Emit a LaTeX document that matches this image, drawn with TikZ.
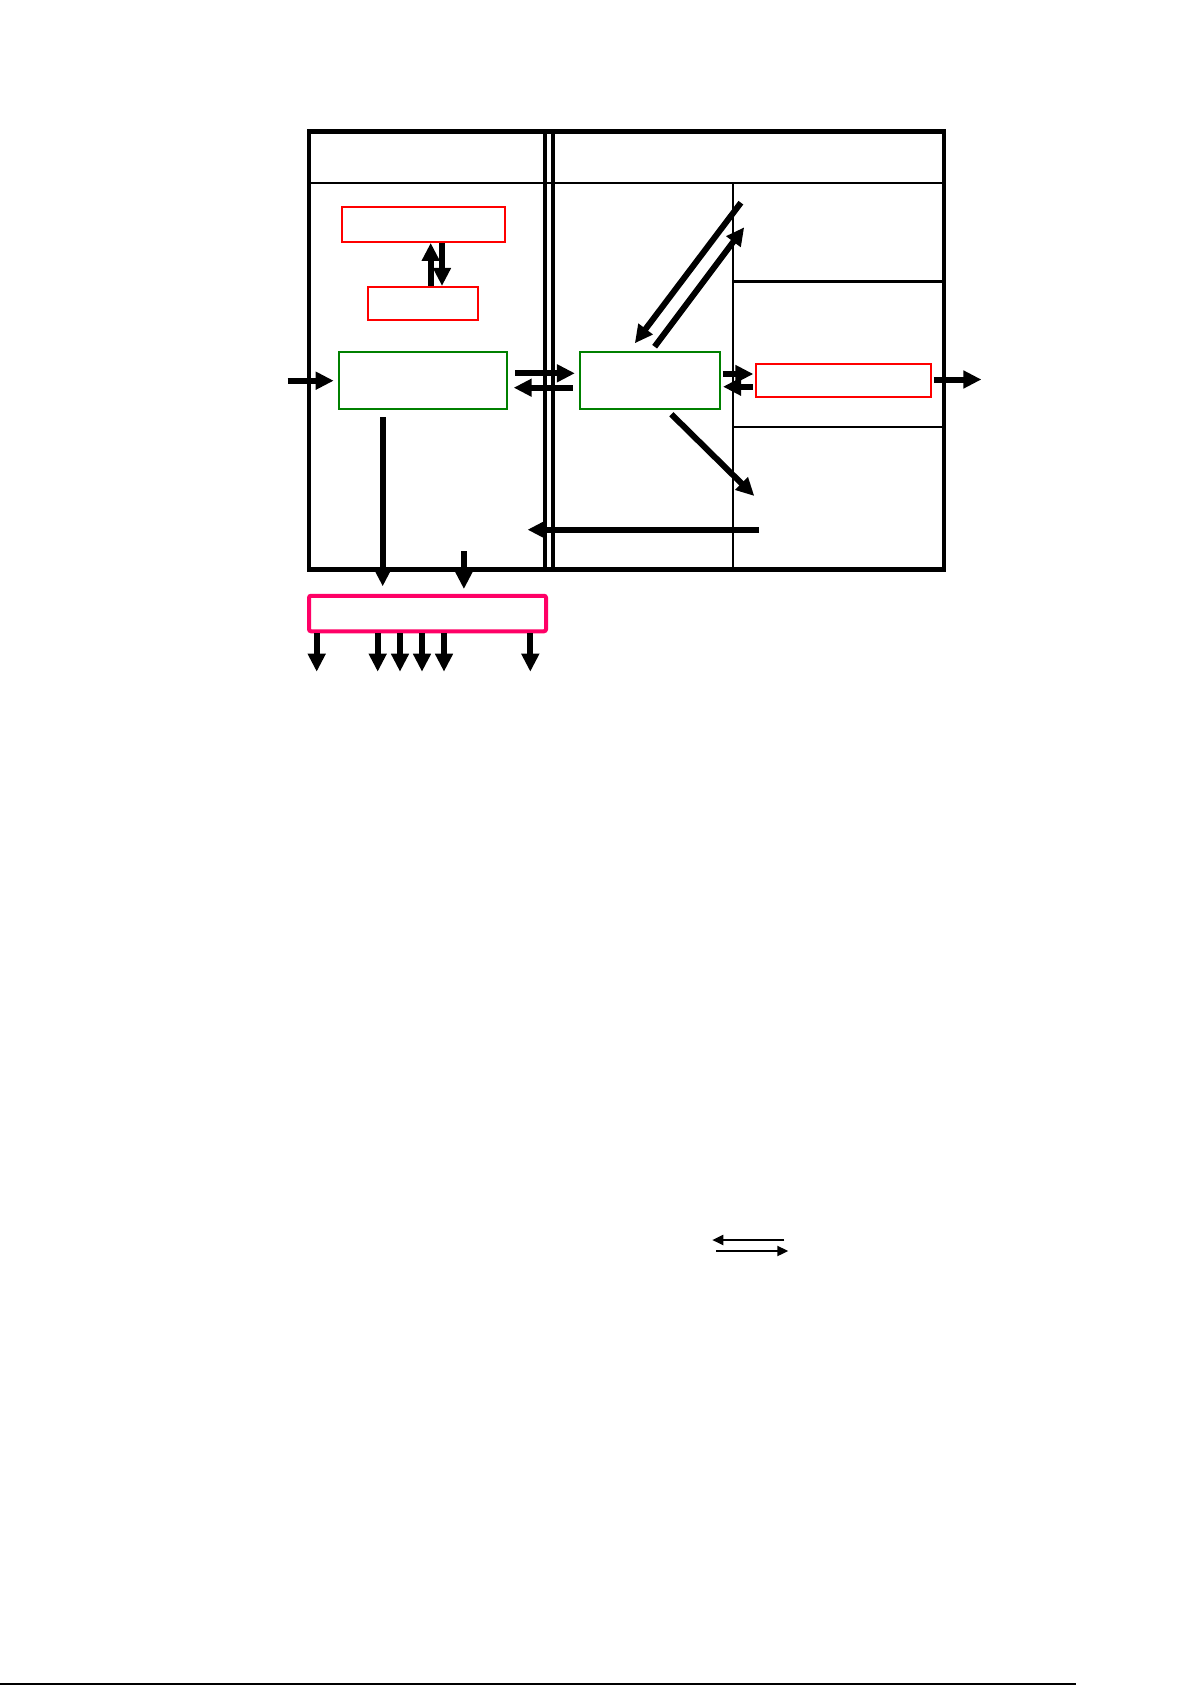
\documentclass[tikz,border=0pt]{standalone}
\usetikzlibrary{arrows.meta,calc}
\definecolor{boxred}{RGB}{255,0,0}
\definecolor{boxgreen}{RGB}{0,128,0}
\definecolor{boxpink}{RGB}{255,0,102}
\tikzset{
  frame/.style={line width=4.5pt},
  dbl/.style={line width=4.3pt},
  divider/.style={line width=2.3pt},
  redbox/.style={draw=boxred,line width=2pt,inner sep=0pt},
  greenbox/.style={draw=boxgreen,line width=2pt,inner sep=0pt},
  pinkbox/.style={draw=boxpink,line width=4pt,rounded corners=2pt,inner sep=0pt},
  arr/.style={line width=6pt,-{Triangle[length=18pt,width=17pt]}},
  thinarr/.style={line width=2pt,-{Triangle[length=11pt,width=10pt]}}
}
\begin{document}
\begin{tikzpicture}[x=1pt,y=-1pt]
\useasboundingbox (0,0) rectangle (1192,1685);
% frame
\draw[frame] (308.8,131.5) rectangle (943.8,569.7);
\draw[divider] (308.8,182.7) -- (943.8,182.7);
\draw[dbl] (545.3,131.5) -- (545.3,569.7);
\draw[dbl] (553,131.5) -- (553,569.7);
\draw[divider] (733,182.7) -- (733,569.7);
\draw[divider] (733,281.6) -- (943.8,281.6);
\draw[divider] (733,426.7) -- (943.8,426.7);
% boxes
\node[redbox,minimum width=163.4pt,minimum height=34.4pt] (r1) at (423.5,224.7) {};
\node[redbox,minimum width=110.7pt,minimum height=33.3pt] (r2) at (423,303.6) {};
\node[greenbox,minimum width=168.8pt,minimum height=57pt] (g1) at (423,380) {};
\node[greenbox,minimum width=139.8pt,minimum height=57pt] (g2) at (650.3,380) {};
\node[redbox,minimum width=175.3pt,minimum height=32.2pt] (r3) at (843.3,380.5) {};
\node[pinkbox,minimum width=237pt,minimum height=35.5pt] (pk) at (427.5,613.5) {};
% coordinates
\coordinate (ua) at (430.7,0);
\coordinate (da) at (442,0);
\coordinate (inc) at (287.6,380.7);
\coordinate (outc) at (981.4,379.5);
\coordinate (dA) at (740.9,202.7);
\coordinate (dB) at (744.2,227.3);
\coordinate (dC) at (754.3,496);
\coordinate (lS) at (759,529.7);
\coordinate (lE) at (527.5,529.7);
\coordinate (sd) at (463.9,551);
\coordinate (lgA) at (784.3,1240);
\coordinate (lgB) at (712.3,1240);
\coordinate (lgC) at (716,1251);
\coordinate (lgD) at (788.3,1251);
% arrows
\draw[arr] (r2.north -| ua) -- (r1.south -| ua);
\draw[arr] (r1.south -| da) -- (r2.north -| da);
\draw[arr] (inc) -- ($(g1.west)+(-3.9,0.7)$);
\draw[arr] ($(g1.east)+(6.6,-6.7)$) -- ($(g2.west)+(-4.5,-6.7)$);
\draw[arr] ($(g2.west)+(-6.6,7.7)$) -- ($(g1.east)+(5.3,7.7)$);
\draw[arr] ($(g2.east)+(1.7,-6)$) -- ($(r3.west)+(-1.3,-6.5)$);
\draw[arr] ($(r3.west)+(-2,6.2)$) -- ($(g2.east)+(1.8,6.7)$);
\draw[arr] ($(r3.east)+(2,-1)$) -- (outc);
\draw[arr] (dA) -- ($(g2.north)+(-15.5,-7.2)$);
\draw[arr] ($(g2.north)+(4.3,-3.8)$) -- (dB);
\draw[arr] ($(g2.south)+(21.1,4.8)$) -- (dC);
\draw[arr] (lS) -- (lE);
\draw[arr] ($(g1.south)+(-40.3,7.5)$) -- ($(pk.north)+(-44.8,-7.4)$);
\draw[arr] (sd) -- ($(pk.north)+(36.4,-4.7)$);
\foreach \x [count=\i] in {316.7,377.7,400,422,444,530.3}{
  \coordinate (b\i) at (\x,671.7);
  \draw[arr] (pk.south -| b\i) -- (b\i);
}
% legend
\draw[thinarr] (lgA) -- (lgB);
\draw[thinarr] (lgC) -- (lgD);
% bottom rule
\coordinate (bl) at (0,1684);
\coordinate (br) at (1076,1684);
\draw[line width=1.5pt] (bl) -- (br);
\end{tikzpicture}
\end{document}
